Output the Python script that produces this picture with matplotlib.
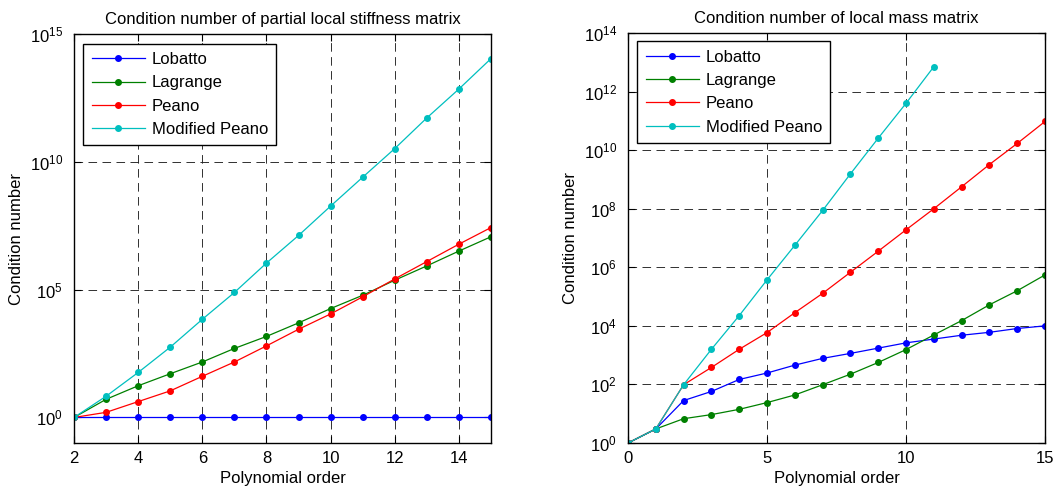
import matplotlib
matplotlib.use("Agg")
import numpy as np
import matplotlib.pyplot as plt
from matplotlib.ticker import NullLocator

plt.rcParams["font.family"] = ["Liberation Sans", "DejaVu Sans"]

# left panel: partial local stiffness matrix (log10 of condition number)
ORDER_K = list(range(2, 16))
K_LOBATTO = [0.0] * 14
K_LAGRANGE = [0.0, 0.71, 1.24, 1.71, 2.17, 2.70, 3.17, 3.70, 4.26, 4.78, 5.37, 5.93, 6.51, 7.07]
K_PEANO = [0.0, 0.20, 0.62, 1.04, 1.61, 2.17, 2.80, 3.45, 4.05, 4.72, 5.42, 6.10, 6.78, 7.43]
K_MODPEANO = [0.0, 0.83, 1.76, 2.75, 3.84, 4.89, 6.04, 7.12, 8.27, 9.40, 10.52, 11.72, 12.85, 14.04]

# right panel: local mass matrix (log10 of condition number)
ORDER_M = list(range(0, 16))
M_LOBATTO = [0.0, 0.48, 1.45, 1.76, 2.17, 2.39, 2.66, 2.89, 3.06, 3.24, 3.42, 3.55, 3.68, 3.78, 3.91, 4.00]
M_LAGRANGE = [0.0, 0.48, 0.83, 0.97, 1.15, 1.38, 1.64, 1.99, 2.35, 2.75, 3.19, 3.69, 4.18, 4.72, 5.20, 5.74]
M_PEANO = [0.0, 0.48, 1.99, 2.58, 3.20, 3.77, 4.45, 5.11, 5.83, 6.55, 7.28, 8.00, 8.75, 9.51, 10.23, 10.98]
ORDER_M_MOD = list(range(0, 12))
M_MODPEANO = [0.0, 0.48, 1.99, 3.20, 4.35, 5.57, 6.75, 7.94, 9.19, 10.41, 11.60, 12.85]

LABELS = ["Lobatto", "Lagrange", "Peano", "Modified Peano"]
COLORS = [(0, 0, 1), (0, 0.5, 0), (1, 0, 0), (0, 0.75, 0.75)]

fig = plt.figure(figsize=(10.56, 4.93), dpi=100)
ax1 = fig.add_axes([0.0701, 0.1014, 0.3949, 0.8296])
ax2 = fig.add_axes([0.5947, 0.1014, 0.3949, 0.8316])


def style(ax, title):
    ax.set_yscale("log")
    ax.grid(True, color="#222222", linestyle=(0, (9.5, 6)), linewidth=0.65)
    ax.tick_params(direction="in", top=True, right=True, labelsize=12, length=5, width=0.8)
    ax.tick_params(axis="x", pad=6)
    ax.tick_params(axis="y", pad=8)
    for s in ax.spines.values():
        s.set_linewidth(1.0)
    ax.set_title(title, fontsize=12, pad=7)
    ax.set_xlabel("Polynomial order", fontsize=12, labelpad=3)
    ax.set_ylabel("Condition number", fontsize=12, labelpad=4)


series_k = [K_LOBATTO, K_LAGRANGE, K_PEANO, K_MODPEANO]
for vals, lab, col in zip(series_k, LABELS, COLORS):
    ax1.plot(ORDER_K, 10 ** np.array(vals), "-o", color=col, label=lab,
             linewidth=0.9, markersize=4)
style(ax1, "Condition number of partial local stiffness matrix")
ax1.set_xlim(2, 15)
ax1.set_ylim(1e-1, 1e15)
ax1.set_xticks(range(2, 15, 2))
ax1.set_yticks([1e0, 1e5, 1e10, 1e15])
ax1.yaxis.set_minor_locator(NullLocator())

series_m = [(ORDER_M, M_LOBATTO), (ORDER_M, M_LAGRANGE), (ORDER_M, M_PEANO), (ORDER_M_MOD, M_MODPEANO)]
for (xs, vals), lab, col in zip(series_m, LABELS, COLORS):
    ax2.plot(xs, 10 ** np.array(vals), "-o", color=col, label=lab,
             linewidth=0.9, markersize=4)
style(ax2, "Condition number of local mass matrix")
ax2.set_xlim(0, 15)
ax2.set_ylim(1e0, 1e14)
ax2.set_xticks([0, 5, 10, 15])
ax2.set_yticks([10.0 ** k for k in range(0, 15, 2)])
ax2.yaxis.set_minor_locator(NullLocator())

for ax, anchor in [(ax1, (0.022, 0.976)), (ax2, (0.022, 0.98))]:
    leg = ax.legend(loc="upper left", bbox_to_anchor=anchor, borderaxespad=0,
                    fontsize=12, fancybox=False, framealpha=1, edgecolor="black",
                    numpoints=1, handlelength=3.2, handletextpad=0.4,
                    labelspacing=0.5, borderpad=0.5)
    leg.get_frame().set_linewidth(1.0)

fig.savefig("out.png", dpi=100)
